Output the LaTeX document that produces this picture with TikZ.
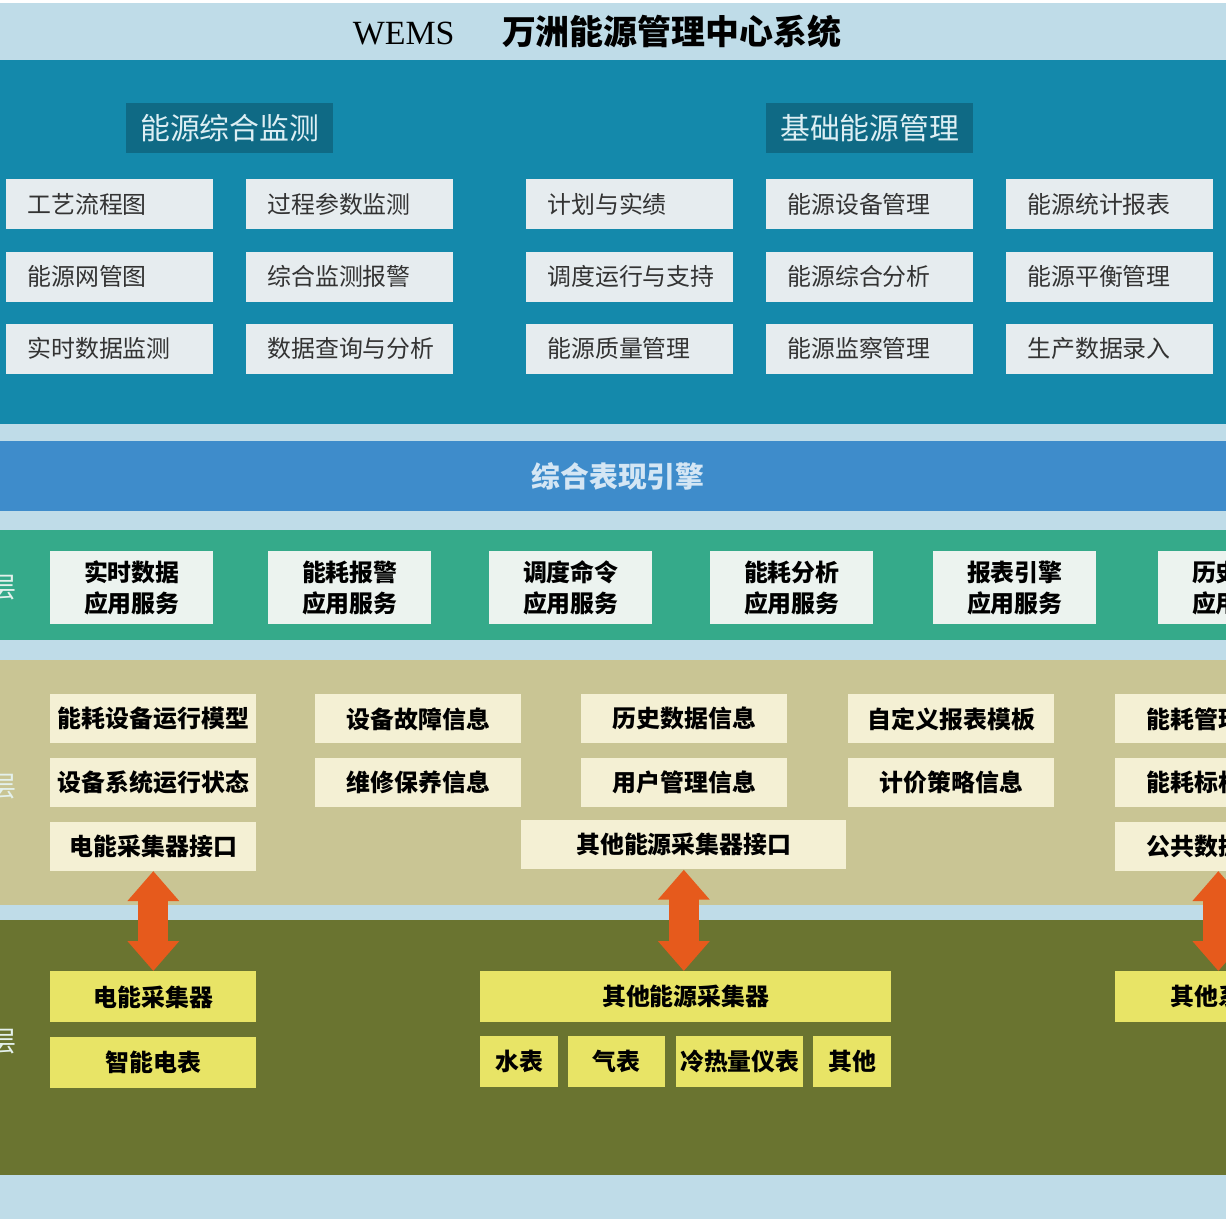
\documentclass[tikz,border=0pt]{standalone}
\usepackage{fontspec}
\setmainfont{Noto Sans CJK SC}
\newfontfamily\wemsfont{Liberation Serif}
\usepackage{tikz}
\usepackage{xcolor}
\usetikzlibrary{arrows.meta, positioning}

\definecolor{paleblue}{HTML}{BFDCE8}
\definecolor{topteal}{HTML}{1489AB}
\definecolor{headteal}{HTML}{0F6A85}
\definecolor{headtext}{HTML}{DDEFF4}
\definecolor{funcgray}{HTML}{E6ECEF}
\definecolor{engineblue}{HTML}{3E8CCB}
\definecolor{enginetext}{HTML}{D4E6F4}
\definecolor{svcgreen}{HTML}{35AA8A}
\definecolor{svcwhite}{HTML}{ECF3EF}
\definecolor{datakhaki}{HTML}{C9C594}
\definecolor{datacream}{HTML}{F4F0D4}
\definecolor{devolive}{HTML}{6A7430}
\definecolor{devyellow}{HTML}{E8E466}
\definecolor{arroworange}{HTML}{E65A1C}
\definecolor{layertext}{HTML}{E4F1EC}

\begin{document}
\begin{tikzpicture}[
  x=0.02cm, y=-0.02cm,
  grouphead/.style={rectangle, fill=headteal, text=headtext, minimum width=4.14cm, minimum height=1.0cm, inner sep=0pt, font=\fontsize{17}{20}\selectfont},
  funcbox/.style={rectangle, fill=funcgray, text=black!80, minimum height=1.0cm, text width=4.14cm, inner xsep=0pt, inner ysep=0pt, align=left, execute at begin node={\hspace*{0.42cm}}, font=\fontsize{13.6}{16}\selectfont},
  svcbox/.style={rectangle, fill=svcwhite, minimum width=3.26cm, minimum height=1.46cm, inner sep=0pt, align=center, font=\bfseries\fontsize{13.6}{18}\selectfont},
  databox/.style={rectangle, fill=datacream, minimum width=4.12cm, minimum height=0.98cm, inner sep=0pt, font=\bfseries\fontsize{13.6}{16}\selectfont},
  devbox/.style={rectangle, fill=devyellow, minimum width=4.12cm, minimum height=1.02cm, inner sep=0pt, font=\bfseries\fontsize{13.6}{16}\selectfont},
  layerlabel/.style={text=layertext, inner sep=0pt, font=\fontsize{16}{18}\selectfont},
  dblarrow/.style={draw=arroworange, line width=17pt, {Triangle[width=1.0cm,length=0.6cm]}-{Triangle[width=1.0cm,length=0.6cm]}}
]

  \clip (0,0) rectangle (1226,1226);

  % background bands
  \fill[white] (0,0) rectangle (1226,1226);
  \fill[paleblue] (0,3) rectangle (1226,1219);
  \fill[topteal] (0,60) rectangle (1226,424);
  \fill[engineblue] (0,441) rectangle (1226,511);
  \fill[svcgreen] (0,530) rectangle (1226,640);
  \fill[datakhaki] (0,660) rectangle (1226,905);
  \fill[devolive] (0,920) rectangle (1226,1175);

  \node [font=\bfseries\fontsize{19.3}{22}\selectfont] (title) at (597,32) {{\wemsfont\mdseries WEMS}\hspace{0.95cm}万洲能源管理中心系统};

  % top: monitoring and basic management
  \node [grouphead, anchor=north west] (monhead) at (126,103) {能源综合监测};
  \node [grouphead, anchor=north west] (basehead) at (766,103) {基础能源管理};

  \node [funcbox, anchor=north west] (flow)   at (6,179)    {工艺流程图};
  \node [funcbox, below=0.43cm of flow]      (netmap) {能源网管图};
  \node [funcbox, below=0.43cm of netmap]    (rtmon)  {实时数据监测};

  \node [funcbox, anchor=north west] (param)  at (246,179)  {过程参数监测};
  \node [funcbox, below=0.43cm of param]     (alarm)  {综合监测报警};
  \node [funcbox, below=0.43cm of alarm]     (query)  {数据查询与分析};

  \node [funcbox, anchor=north west] (plan)   at (526,179)  {计划与实绩};
  \node [funcbox, below=0.43cm of plan]      (dispatch) {调度运行与支持};
  \node [funcbox, below=0.43cm of dispatch]  (quality) {能源质量管理};

  \node [funcbox, anchor=north west] (equip)  at (766,179)  {能源设备管理};
  \node [funcbox, below=0.43cm of equip]     (analysis) {能源综合分析};
  \node [funcbox, below=0.43cm of analysis]  (inspect) {能源监察管理};

  \node [funcbox, anchor=north west] (stats)  at (1006,179) {能源统计报表};
  \node [funcbox, below=0.43cm of stats]     (balance) {能源平衡管理};
  \node [funcbox, below=0.43cm of balance]   (entry)  {生产数据录入};

  % engine
  \node [text=enginetext, font=\bfseries\fontsize{16.4}{19}\selectfont] (engine) at (618,476) {综合表现引擎};

  % service layer
  \node [layerlabel] (svclayer) at (3,588) {层};
  \node [svcbox, anchor=north west] (rtsvc)    at (50,551)   {实时数据\\应用服务};
  \node [svcbox, anchor=north west] (alarmsvc) at (268,551)  {能耗报警\\应用服务};
  \node [svcbox, anchor=north west] (cmdsvc)   at (489,551)  {调度命令\\应用服务};
  \node [svcbox, anchor=north west] (anasvc)   at (710,551)  {能耗分析\\应用服务};
  \node [svcbox, anchor=north west] (repsvc)   at (933,551)  {报表引擎\\应用服务};
  \node [svcbox, anchor=north west] (histsvc)  at (1158,551) {历史数据\\应用服务};

  % data layer
  \node [layerlabel] (datalayer) at (3,787) {层};
  \node [databox, anchor=north west] (model)    at (50,694)   {能耗设备运行模型};
  \node [databox, below=0.28cm of model]       (state)    {设备系统运行状态};
  \node [databox, below=0.28cm of state]       (elecif)   {电能采集器接口};

  \node [databox, anchor=north west] (fault)    at (315,694)  {设备故障信息};
  \node [databox, below=0.28cm of fault]       (repair)   {维修保养信息};

  \node [databox, anchor=north west] (history)  at (581,694)  {历史数据信息};
  \node [databox, below=0.28cm of history]     (users)    {用户管理信息};
  \node [databox, minimum width=6.5cm, anchor=north west] (otherif) at (521,820) {其他能源采集器接口};

  \node [databox, anchor=north west] (template) at (848,694)  {自定义报表模板};
  \node [databox, below=0.28cm of template]    (pricing)  {计价策略信息};

  \node [databox, anchor=north west] (mgmtinfo) at (1115,694) {能耗管理信息};
  \node [databox, below=0.28cm of mgmtinfo]    (bench)    {能耗标杆信息};
  \node [databox, below=0.28cm of bench]       (pubif)    {公共数据接口};

  % collection layer
  \node [layerlabel] (devlayer) at (3,1042) {层};
  \node [devbox, anchor=north west] (eleccol)  at (50,971)   {电能采集器};
  \node [devbox, below=0.28cm of eleccol]      (meter)    {智能电表};

  \node [devbox, minimum width=8.22cm, anchor=north west] (othercol) at (480,971) {其他能源采集器};
  \node [devbox, minimum width=1.56cm, anchor=north west] (water) at (480,1036) {水表};
  \node [devbox, minimum width=1.94cm, anchor=north west] (gas)   at (568,1036) {气表};
  \node [devbox, minimum width=2.54cm, anchor=north west] (heat)  at (676,1036) {冷热量仪表};
  \node [devbox, minimum width=1.56cm, anchor=north west] (misc)  at (813,1036) {其他};

  \node [devbox, anchor=north west] (othersys) at (1115,971) {其他系统};

  % links between data and collection layers
  \draw [dblarrow] (elecif.south) -- (eleccol.north);
  \draw [dblarrow] (otherif.south) -- (otherif.south |- othercol.north);
  \draw [dblarrow] (pubif.south) -- (othersys.north);
\end{tikzpicture}
\end{document}
